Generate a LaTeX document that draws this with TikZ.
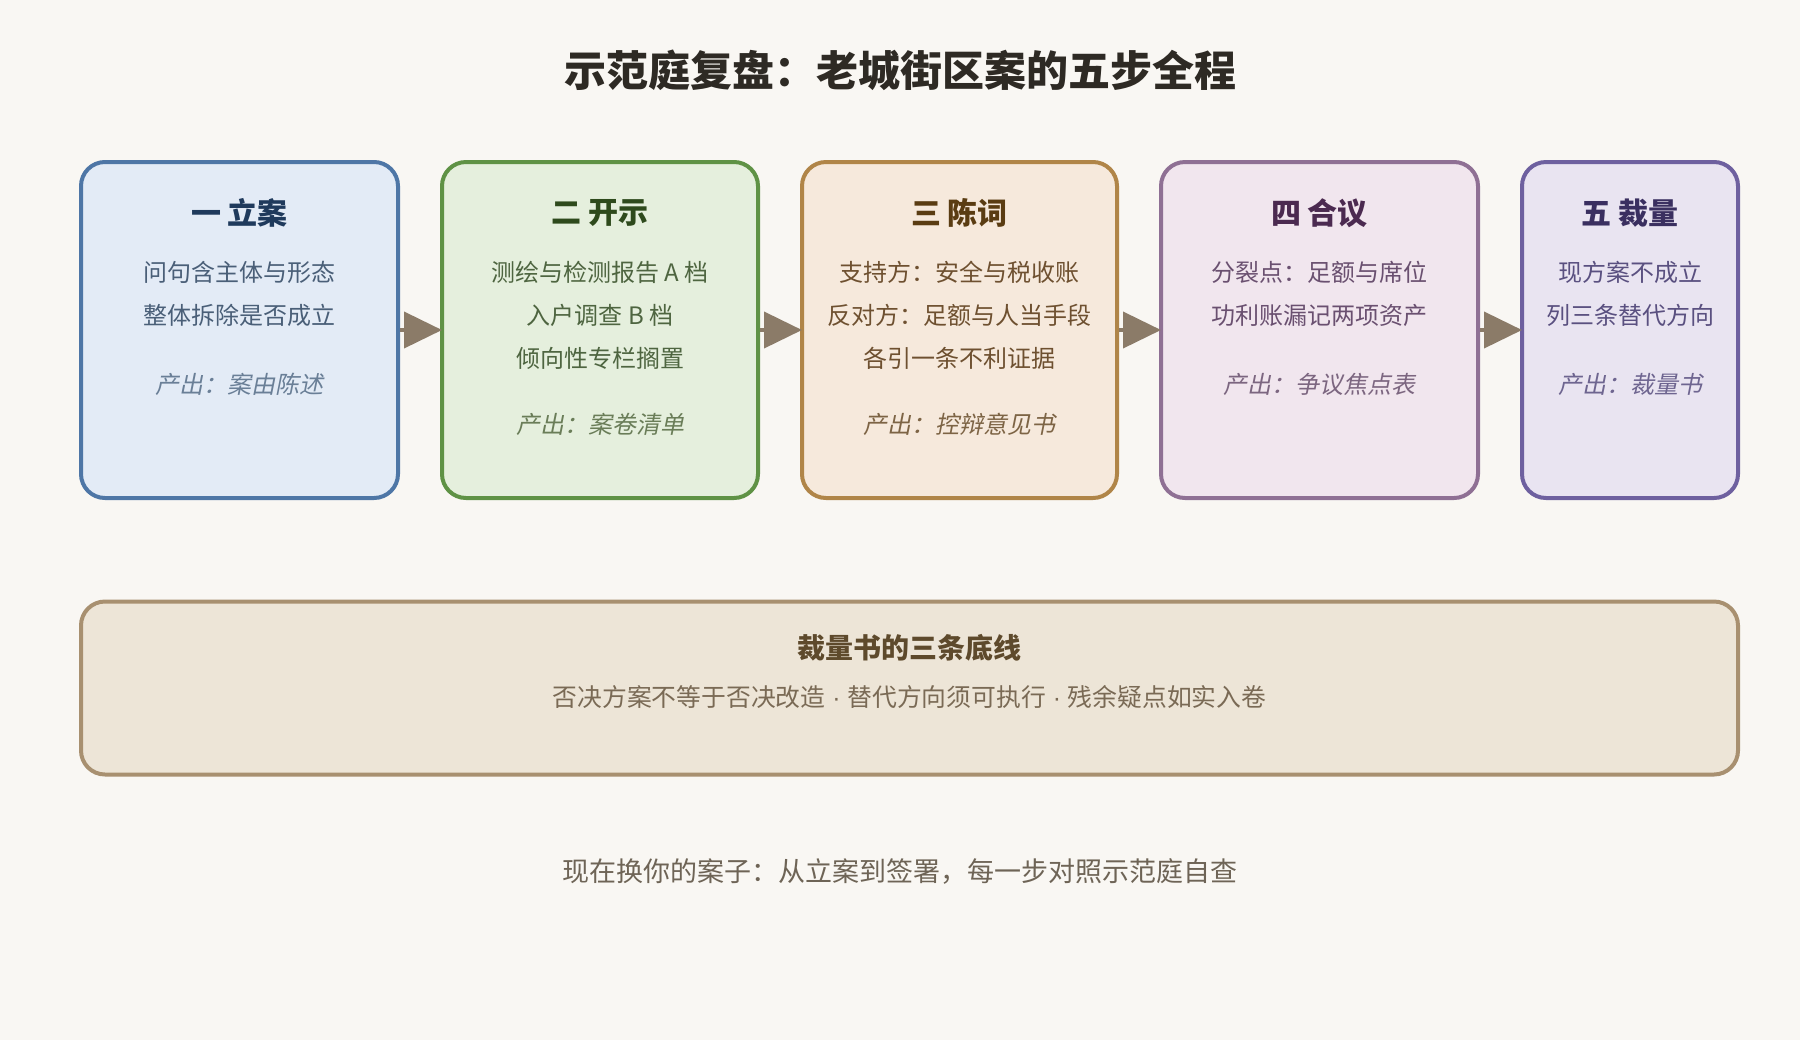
\documentclass[tikz,border=0pt]{standalone}
\usepackage{fontspec}
\setmainfont{Noto Sans CJK SC}
\newfontfamily\slfont{Noto Sans CJK SC}[FakeSlant=0.2]
\newfontfamily\latfont{Liberation Sans}
\newcommand\mdot{{\latfont\ ·\ }}
\usetikzlibrary{arrows.meta}
\definecolor{bgc}{HTML}{F9F7F3}
\definecolor{fA}{HTML}{E3EBF6}\definecolor{dA}{HTML}{4E76A6}\definecolor{tA}{HTML}{1F3A5C}\definecolor{bA}{HTML}{4A5F78}\definecolor{oA}{HTML}{6A7F97}
\definecolor{fB}{HTML}{E5EFDD}\definecolor{dB}{HTML}{5F9245}\definecolor{tB}{HTML}{2E4A1C}\definecolor{bB}{HTML}{4E6540}\definecolor{oB}{HTML}{6A7D58}
\definecolor{fC}{HTML}{F6E9DC}\definecolor{dC}{HTML}{B08548}\definecolor{tC}{HTML}{5A3C12}\definecolor{bC}{HTML}{6E5030}\definecolor{oC}{HTML}{7D6445}
\definecolor{fD}{HTML}{F1E6EE}\definecolor{dD}{HTML}{8F7094}\definecolor{tD}{HTML}{4B2A50}\definecolor{bD}{HTML}{6A5070}\definecolor{oD}{HTML}{7C6680}
\definecolor{fE}{HTML}{E9E4F1}\definecolor{dE}{HTML}{6E609F}\definecolor{tE}{HTML}{3A2F60}\definecolor{bE}{HTML}{5A5080}\definecolor{oE}{HTML}{6E6590}
\definecolor{fF}{HTML}{EDE5D7}\definecolor{dF}{HTML}{A89070}\definecolor{tF}{HTML}{5E4A2C}\definecolor{bF}{HTML}{7A6A55}
\definecolor{arrc}{HTML}{8B7B68}
\definecolor{titc}{HTML}{2E2A24}
\definecolor{footc}{HTML}{6E6456}
\tikzset{
  card/.style={draw, line width=2pt, rounded corners=12pt, minimum height=168pt, inner sep=0pt},
  cardtitle/.style={font=\fontsize{15}{18}\selectfont\bfseries, inner sep=0pt},
  cardline/.style={font=\fontsize{12}{14}\selectfont, inner sep=0pt},
  cardout/.style={font=\fontsize{12}{14}\selectfont\slfont, inner sep=0pt},
  flow/.style={draw=arrc, line width=2pt, -{Triangle[length=19pt,width=18pt]}, color=arrc, shorten >=-1pt},
}
\begin{document}
\begin{tikzpicture}[x=0.5pt,y=-0.5pt]
\fill[bgc] (0,0) rectangle (1800,1040);
\useasboundingbox (0,0) rectangle (1800,1040);

\node[font=\fontsize{21}{25}\selectfont\bfseries, text=titc, inner sep=0pt] (title) at (900,70) {示范庭复盘：老城街区案的五步全程};

% cards
\node[card, fill=fA, draw=dA, minimum width=158.5pt] (c1) at (239.5,330) {};
\node[card, fill=fB, draw=dB, minimum width=158pt] (c2) at (600,330) {};
\node[card, fill=fC, draw=dC, minimum width=157.5pt] (c3) at (959.5,330) {};
\node[card, fill=fD, draw=dD, minimum width=158.5pt] (c4) at (1319.5,330) {};
\node[card, fill=fE, draw=dE, minimum width=108pt] (c5) at (1630,330) {};

% card 1
\node[cardtitle, text=tA] (t1) at (239.5,213) {一 立案};
\node[cardline, text=bA] (l1a) at (239.5,272) {问句含主体与形态};
\node[cardline, text=bA] (l1b) at (239.5,315) {整体拆除是否成立};
\node[cardout, text=oA] (o1) at (239.5,384) {产出：案由陈述};

% card 2
\node[cardtitle, text=tB] (t2) at (600,213) {二 开示};
\node[cardline, text=bB] (l2a) at (600,272) {测绘与检测报告 A 档};
\node[cardline, text=bB] (l2b) at (600,315) {入户调查 B 档};
\node[cardline, text=bB] (l2c) at (600,358) {倾向性专栏搁置};
\node[cardout, text=oB] (o2) at (600,424) {产出：案卷清单};

% card 3
\node[cardtitle, text=tC] (t3) at (959.5,213) {三 陈词};
\node[cardline, text=bC] (l3a) at (959.5,272) {支持方：安全与税收账};
\node[cardline, text=bC] (l3b) at (959.5,315) {反对方：足额与人当手段};
\node[cardline, text=bC] (l3c) at (959.5,358) {各引一条不利证据};
\node[cardout, text=oC] (o3) at (959.5,424) {产出：控辩意见书};

% card 4
\node[cardtitle, text=tD] (t4) at (1319.5,213) {四 合议};
\node[cardline, text=bD] (l4a) at (1319.5,272) {分裂点：足额与席位};
\node[cardline, text=bD] (l4b) at (1319.5,315) {功利账漏记两项资产};
\node[cardout, text=oD] (o4) at (1319.5,384) {产出：争议焦点表};

% card 5
\node[cardtitle, text=tE] (t5) at (1630,213) {五 裁量};
\node[cardline, text=bE] (l5a) at (1630,272) {现方案不成立};
\node[cardline, text=bE] (l5b) at (1630,315) {列三条替代方向};
\node[cardout, text=oE] (o5) at (1630,384) {产出：裁量书};

% arrows
\draw[flow] (c1.east) -- (c2.west);
\draw[flow] (c2.east) -- (c3.west);
\draw[flow] (c3.east) -- (c4.west);
\draw[flow] (c4.east) -- (c5.west);

% bottom box
\node[draw=dF, fill=fF, line width=2pt, rounded corners=12pt, minimum width=828.5pt, minimum height=86.5pt, inner sep=0pt] (base) at (909.5,688) {};
\node[font=\fontsize{14}{17}\selectfont\bfseries, text=tF, inner sep=0pt] (bt) at (909.5,648) {裁量书的三条底线};
\node[font=\fontsize{12.4}{14}\selectfont, text=bF, inner sep=0pt] (bs) at (909.5,697) {否决方案不等于否决改造\mdot 替代方向须可执行\mdot 残余疑点如实入卷};

\node[font=\fontsize{13.5}{16}\selectfont, text=footc, inner sep=0pt] (foot) at (900,871) {现在换你的案子：从立案到签署，每一步对照示范庭自查};
\end{tikzpicture}
\end{document}
